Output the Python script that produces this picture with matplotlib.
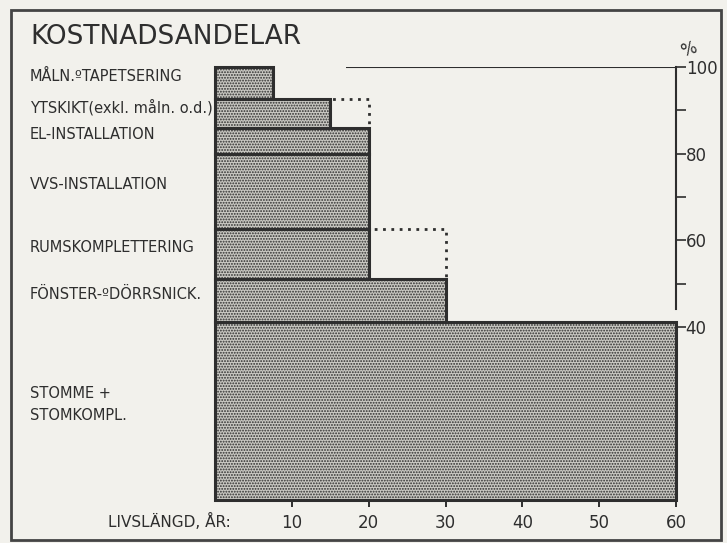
import matplotlib.pyplot as plt
from matplotlib.patches import Rectangle

# kategorier nedifrån och upp
categories = ["STOMME +\nSTOMKOMPL.", "FÖNSTER-ºDÖRRSNICK.", "RUMSKOMPLETTERING",
              "VVS-INSTALLATION", "EL-INSTALLATION", "YTSKIKT(exkl. måln. o.d.)",
              "MÅLN.ºTAPETSERING"]
livslangd = [60, 30, 20, 20, 20, 15, 7.5]      # år
livslangd_max = [0, 0, 30, 0, 0, 20, 0]         # streckad förlängning
andel = [41, 10, 11.5, 17.5, 6, 6.5, 7.5]       # kostnadsandel, %
xticks = [10, 20, 30, 40, 50, 60]
yticks = [40, 50, 60, 70, 80, 90, 100]
ytick_labels = ["40", "", "60", "", "80", "", "100"]

ink = "#2e2e2e"
paper = "#f2f1ec"
plt.rcParams['font.family'] = ['DejaVu Sans']
plt.rcParams['hatch.linewidth'] = 0.9

fig = plt.figure(figsize=(7.27, 5.43), dpi=100, facecolor=paper)
ax = fig.add_axes([215 / 727, 1 - 500 / 543, 461 / 727, 433 / 543])
ax.set_facecolor(paper)

bottoms = [sum(andel[:i]) for i in range(len(andel))]

# streckade förlängningar under staplarna
for b, h, ext in zip(bottoms, andel, livslangd_max):
    if ext:
        ax.barh(b, ext, height=h, align='edge', fill=False, edgecolor=ink,
                linestyle=(0, (1, 2)), linewidth=2, clip_on=False, zorder=1)

ax.barh(bottoms, livslangd, height=andel, align='edge', facecolor="#c9c8c2",
        edgecolor=ink, hatch='......', linewidth=2.2, clip_on=False, zorder=2)

# 100 %-linjen
ax.hlines(100, 17, 60, color=ink, linewidth=1.5, zorder=1)

ax.set_xlim(0, 60)
ax.set_ylim(0, 100)
for s in ['top', 'left', 'bottom']:
    ax.spines[s].set_visible(False)
ax.spines['right'].set_bounds(44, 100)
ax.spines['right'].set_color(ink)
ax.spines['right'].set_linewidth(1.5)

ax.set_xticks(xticks)
ax.set_xticklabels([str(t) for t in xticks])
ax.tick_params(axis='x', direction='out', length=5, width=1.4, color=ink,
               labelsize=12, labelcolor=ink, pad=5)
ax.yaxis.tick_right()
ax.set_yticks(yticks)
ax.set_yticklabels(ytick_labels)
ax.tick_params(axis='y', direction='out', length=7, width=1.2, color=ink,
               labelsize=12, labelcolor=ink, pad=0)
ax.text(60.3, 101.5, "%", fontsize=12, color=ink, ha='left', va='bottom',
        rotation=20)

# etiketter till vänster
for b, h, name in zip(bottoms, andel, categories):
    y = b + h / 2 + 1.5
    ax.annotate(name, xy=(0, y), xycoords=('figure fraction', 'data'),
                xytext=(30, 0), textcoords='offset pixels',
                fontsize=10.5, color=ink, ha='left', va='center', linespacing=1.6)

fig.text(108 / 727, 1 - 521 / 543, "LIVSLÄNGD, ÅR:", fontsize=11, color=ink,
         ha='left', va='center')
fig.text(30 / 727, 1 - 37 / 543, "KOSTNADSANDELAR", fontsize=19, color=ink,
         ha='left', va='center')

fig.patches.append(Rectangle((11 / 727, 1 - 540 / 543), 710 / 727, 530 / 543,
                             transform=fig.transFigure, fill=False,
                             edgecolor="#444444", linewidth=2))

fig.savefig("out.png", dpi=100, facecolor=paper)
